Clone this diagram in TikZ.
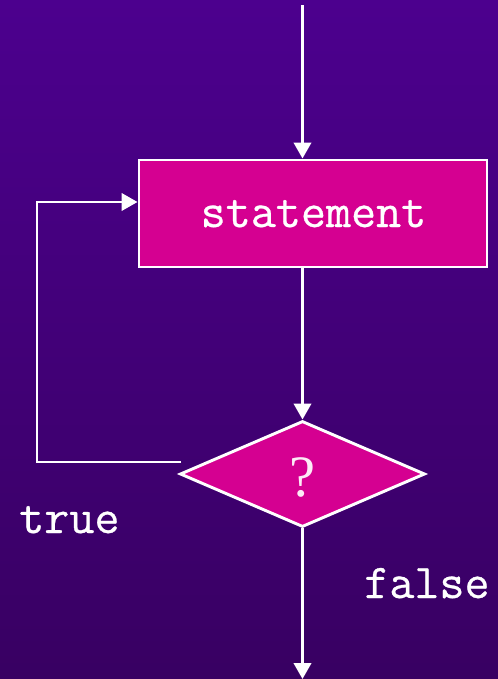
\documentclass[tikz,border=0pt]{standalone}
\usepackage{fontspec}
\usetikzlibrary{shapes.geometric,arrows.meta,calc}
\newfontfamily\seriffnt{Liberation Serif}
\newfontfamily\monofnt{Latin Modern Mono}[FakeBold=0.6]
\definecolor{bgtop}{RGB}{76,0,142}
\definecolor{bgbot}{RGB}{56,0,98}
\definecolor{boxfill}{RGB}{213,0,145}
\tikzset{
  conn/.style={draw=white,line width=2.2pt},
  arr/.style={conn,-{Triangle[width=13pt,length=12pt]}},
  stmtbox/.style={rectangle,draw=white,line width=2.2pt,fill=boxfill,minimum width=348*0.75pt,minimum height=107*0.75pt,inner sep=0pt},
  decbox/.style={diamond,draw=white,line width=2.2pt,fill=boxfill,minimum width=245*0.75pt,minimum height=106*0.75pt,inner sep=0pt},
  lbl/.style={text=white,font=\monofnt\bfseries\fontsize{36.5}{40}\selectfont,inner sep=0pt}
}
\begin{document}
\begin{tikzpicture}[x=0.75pt,y=-0.75pt]
\useasboundingbox (0,0) rectangle (498,679);
\shade[top color=bgtop,bottom color=bgbot] (0,0) rectangle (498,679);
\node[stmtbox] (box) at (313,213.5) {};
\node[lbl,anchor=base] (stxt) at (313.5,227) {statement};
\node[decbox] (d) at (302.5,474) {};
\node[text=white!92!boxfill,font=\seriffnt\fontsize{44}{48}\selectfont,inner sep=0pt] (q) at (303,477) {?};
\node[lbl,anchor=base west] (t) at (19,533) {true};
\node[lbl,anchor=base west] (f) at (364,598) {false};
\coordinate (top) at (302.5,5);
\coordinate (bot) at (302.5,679);
\coordinate (tstart) at (181,462);
\coordinate (lp) at (37,202);
\draw[arr] (top) -- (top |- box.north);
\draw[arr] (d.north |- box.south) -- (d.north);
\draw[arr] (tstart) -| (lp) -- (lp -| box.west);
\draw[arr] (d.south) -- (bot);
\end{tikzpicture}
\end{document}
